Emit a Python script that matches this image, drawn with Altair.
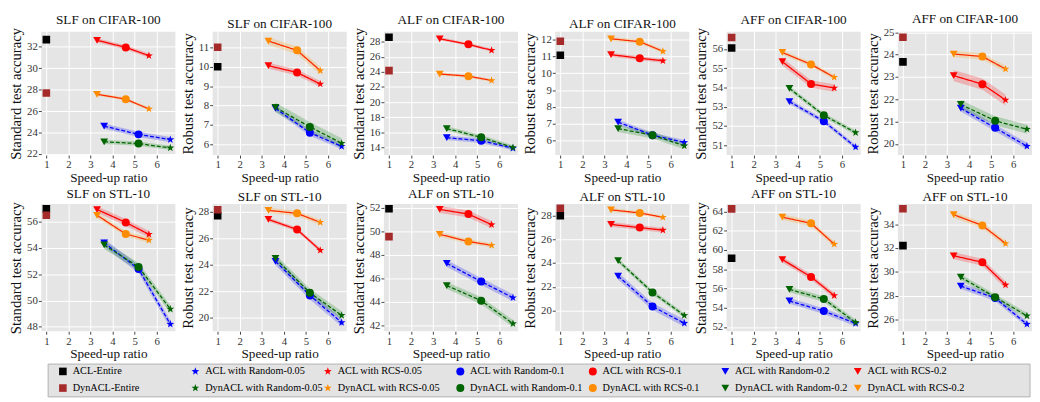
import math
import altair as alt
import pandas as pd

# ---------------- data ----------------
RCS_X = [3.30, 4.60, 5.65]          # RCS-0.2, RCS-0.1, RCS-0.05
RANDOM_X = [3.62, 5.18, 6.62]       # Random-0.2, Random-0.1, Random-0.05
ENTIRE_X = 1.0
RATIO_MARK = ["0.2", "0.1", "0.05"]
X_TICKS = [1, 2, 3, 4, 5, 6]

TITLES = ["SLF on CIFAR-100", "SLF on CIFAR-100", "ALF on CIFAR-100", "ALF on CIFAR-100",
          "AFF on CIFAR-100", "AFF on CIFAR-100",
          "SLF on STL-10", "SLF on STL-10", "ALF on STL-10", "ALF on STL-10",
          "AFF on STL-10", "AFF on STL-10"]
Y_TITLES = ["Standard test accuracy", "Robust test accuracy"] * 6

Y_DOMAINS = [[21.9, 33.4], [5.45, 11.8], [13.0, 29.3], [5.15, 12.46], [50.48, 56.9], [19.5, 25.03],
             [47.66, 57.35], [19.0, 28.58], [41.5, 52.3], [18.27, 28.95], [51.55, 64.77], [25.0, 35.7]]
Y_TICKS = [[22, 24, 26, 28, 30, 32], [6, 7, 8, 9, 10, 11], [14, 16, 18, 20, 22, 24, 26, 28],
           [6, 7, 8, 9, 10, 11, 12], [51, 52, 53, 54, 55, 56], [20, 21, 22, 23, 24, 25],
           [48, 50, 52, 54, 56], [20, 22, 24, 26, 28], [42, 44, 46, 48, 50, 52],
           [20, 22, 24, 26, 28], [52, 54, 56, 58, 60, 62, 64], [26, 28, 30, 32, 34]]

ACL_ENTIRE = [32.66, 10.0, 28.57, 11.07, 56.05, 23.68, 56.98, 27.7, 51.9, 27.97, 59.13, 32.2]
DYN_ENTIRE = [27.69, 11.0, 24.16, 11.9, 56.6, 24.78, 56.49, 28.15, 49.53, 28.6, 64.27, 35.3]

ACL_RCS = [[32.6, 31.94, 31.17], [10.05, 9.7, 9.11], [28.37, 27.63, 26.85], [11.1, 10.89, 10.74],
           [55.34, 54.18, 53.97], [23.06, 22.68, 21.97], [56.93, 55.95, 55.04], [27.42, 26.66, 25.1],
           [51.84, 51.45, 50.55], [27.24, 26.97, 26.76], [59.0, 57.2, 55.26], [31.35, 30.8, 28.9]]
DYN_RCS = [[27.57, 27.11, 26.2], [11.32, 10.84, 9.8], [23.71, 23.43, 22.86], [12.04, 11.87, 11.3],
           [55.82, 55.2, 54.53], [24.03, 23.92, 23.36], [56.49, 55.07, 54.6], [28.1, 27.88, 27.2],
           [49.73, 49.12, 48.8], [28.46, 28.2, 27.84], [63.4, 62.77, 60.6], [34.8, 33.9, 32.38]]
ACL_RANDOM = [[24.6, 23.83, 23.34], [7.85, 6.6, 5.9], [15.3, 14.9, 13.9], [7.1, 6.33, 5.9],
              [53.26, 52.24, 50.9], [21.6, 20.72, 19.9], [54.4, 52.4, 48.2], [24.27, 21.7, 19.66],
              [47.26, 45.72, 44.35], [22.9, 20.35, 18.95], [54.7, 53.65, 52.37], [28.8, 27.8, 25.6]]
DYN_RANDOM = [[23.14, 22.97, 22.57], [7.9, 6.9, 6.06], [16.5, 15.35, 14.0], [6.72, 6.33, 5.7],
              [53.95, 52.55, 51.65], [21.77, 21.04, 20.66], [54.23, 52.56, 49.35], [24.48, 21.9, 20.2],
              [45.38, 44.1, 42.15], [24.2, 21.53, 19.6], [55.9, 54.9, 52.47], [29.55, 27.87, 26.3]]
# shaded band half-widths: ACL RCS, DynACL RCS, ACL Random, DynACL Random
BAND = [[0.2, 0.15, 0.25, 0.2], [0.15, 0.2, 0.15, 0.25], [0.2, 0.2, 0.3, 0.3], [0.12, 0.12, 0.15, 0.2],
        [0.2, 0.12, 0.12, 0.12], [0.25, 0.15, 0.15, 0.2], [0.25, 0.2, 0.3, 0.3], [0.15, 0.2, 0.3, 0.3],
        [0.3, 0.2, 0.3, 0.3], [0.2, 0.15, 0.3, 0.2], [0.3, 0.3, 0.3, 0.3], [0.3, 0.25, 0.25, 0.25]]

LEGEND_ROWS = [
    ["ACL-Entire", "ACL with Random-0.05", "ACL with RCS-0.05", "ACL with Random-0.1",
     "ACL with RCS-0.1", "ACL with Random-0.2", "ACL with RCS-0.2"],
    ["DynACL-Entire", "DynACL with Random-0.05", "DynACL with RCS-0.05", "DynACL with Random-0.1",
     "DynACL with RCS-0.1", "DynACL with Random-0.2", "DynACL with RCS-0.2"],
]
LEGEND_SERIES = [["ACL-Entire", "ACL Random", "ACL RCS", "ACL Random", "ACL RCS", "ACL Random", "ACL RCS"],
                 ["DynACL-Entire", "DynACL Random", "DynACL RCS", "DynACL Random", "DynACL RCS",
                  "DynACL Random", "DynACL RCS"]]
LEGEND_MARKS = ["entire", "0.05", "0.05", "0.1", "0.1", "0.2", "0.2"]

# ---------------- styles ----------------
FONT = "Liberation Serif"
SERIES = ["ACL-Entire", "DynACL-Entire", "ACL RCS", "DynACL RCS", "ACL Random", "DynACL Random"]
MARK_COLORS = ["#000000", "#a52a2a", "#ff0000", "#ff8c00", "#0000ff", "#006400"]
LINE_SERIES = ["ACL RCS", "DynACL RCS", "ACL Random", "DynACL Random"]
LINE_COLORS = ["#ff0000", "#ff2a00", "#0000ff", "#006400"]
BAND_COLORS = ["#ff0000", "#ff9900", "#0000ff", "#008000"]
DASHES = [[1, 0], [1, 0], [4, 2], [4, 2]]


def star_path(r_in=0.4):
    pts = []
    for k in range(10):
        ang = math.radians(-90 + 36 * k)
        r = 1.0 if k % 2 == 0 else r_in
        pts.append((r * math.cos(ang), r * math.sin(ang)))
    return "M" + " L".join(f"{x:.3f},{y:.3f}" for x, y in pts) + " Z"


STAR = star_path()
SHAPE_DOMAIN = ["entire", "0.2", "0.1", "0.05"]
SHAPE_RANGE = ["square", "triangle-down", "circle", STAR]
SIZE_RANGE = [60, 70, 80, 85]

color_scale = alt.Scale(domain=SERIES, range=MARK_COLORS)
shape_scale = alt.Scale(domain=SHAPE_DOMAIN, range=SHAPE_RANGE)
size_scale = alt.Scale(domain=SHAPE_DOMAIN, range=SIZE_RANGE)

AXIS_STYLE = dict(labelFont=FONT, labelFontSize=11, labelFontWeight="normal", labelColor="#333",
                  titleFont=FONT, titleFontWeight="normal", titleColor="#111",
                  labelPadding=1, tickSize=3)


def panel(i, height):
    groups = [("ACL RCS", RCS_X, ACL_RCS[i], BAND[i][0]),
              ("DynACL RCS", RCS_X, DYN_RCS[i], BAND[i][1]),
              ("ACL Random", RANDOM_X, ACL_RANDOM[i], BAND[i][2]),
              ("DynACL Random", RANDOM_X, DYN_RANDOM[i], BAND[i][3])]
    rows = []
    for name, xs, ys, e in groups:
        for x, y, mk in zip(xs, ys, RATIO_MARK):
            rows.append({"series": name, "x": x, "y": y, "lo": y - e, "hi": y + e, "mk": mk})
    lines = pd.DataFrame(rows)
    pts = pd.concat([lines, pd.DataFrame([
        {"series": "ACL-Entire", "x": ENTIRE_X, "y": ACL_ENTIRE[i], "mk": "entire"},
        {"series": "DynACL-Entire", "x": ENTIRE_X, "y": DYN_ENTIRE[i], "mk": "entire"},
    ])], ignore_index=True)

    xsc = alt.Scale(domain=[0.77, 6.85], nice=False, zero=False)
    ysc = alt.Scale(domain=Y_DOMAINS[i], nice=False, zero=False)
    xax = alt.Axis(values=X_TICKS, title="Speed-up ratio", format="d", titleFontSize=13.5,
                   titlePadding=1, **AXIS_STYLE)
    yax = alt.Axis(values=Y_TICKS[i], title=Y_TITLES[i], format="d", minExtent=16, maxExtent=16,
                   titleFontSize=15, titlePadding=2, **AXIS_STYLE)
    X = alt.X("x:Q", scale=xsc, axis=xax)

    band = alt.Chart(lines).mark_area(opacity=0.22, clip=True).encode(
        x=X,
        y=alt.Y("lo:Q", scale=ysc, axis=yax),
        y2="hi:Q",
        fill=alt.Fill("series:N", scale=alt.Scale(domain=LINE_SERIES, range=BAND_COLORS), legend=None),
        detail="series:N",
    )
    line = alt.Chart(lines).mark_line(strokeWidth=1.3, clip=True).encode(
        x=X,
        y=alt.Y("y:Q", scale=ysc, axis=yax),
        stroke=alt.Stroke("series:N", scale=alt.Scale(domain=LINE_SERIES, range=LINE_COLORS), legend=None),
        strokeDash=alt.StrokeDash("series:N", scale=alt.Scale(domain=LINE_SERIES, range=DASHES), legend=None),
    )
    point = alt.Chart(pts).mark_point(filled=True, opacity=1, clip=True).encode(
        x=X,
        y=alt.Y("y:Q", scale=ysc, axis=yax),
        color=alt.Color("series:N", scale=color_scale, legend=None),
        shape=alt.Shape("mk:N", scale=shape_scale, legend=None),
        size=alt.Size("mk:N", scale=size_scale, legend=None),
    )
    return alt.layer(band, line, point).properties(
        width=137, height=height,
        title=alt.TitleParams(TITLES[i], fontSize=13.5, font=FONT, fontWeight="normal", offset=1,
                              color="#111"),
    )


row1 = alt.hconcat(*[panel(i, 126) for i in range(6)], spacing=4).resolve_scale(
    x="independent", y="independent")
row2 = alt.hconcat(*[panel(i, 130) for i in range(6, 12)], spacing=4).resolve_scale(
    x="independent", y="independent")

# legend built from the series lists
lrows = []
for r in range(2):
    for c in range(7):
        lrows.append({"col": c, "row": r, "label": LEGEND_ROWS[r][c],
                      "series": LEGEND_SERIES[r][c], "mk": LEGEND_MARKS[c]})
ldf = pd.DataFrame(lrows)
lx = alt.X("col:Q", scale=alt.Scale(domain=[-0.163, 7.219], nice=False, zero=False), axis=None)
ly = alt.Y("row:Q", scale=alt.Scale(domain=[-0.47, 1.53], nice=False, zero=False, reverse=True),
           axis=None)
lbox = alt.Chart(ldf.head(1)).mark_rect(fill="#e3e3e3", stroke="#b0b0b0", strokeWidth=1).encode(
    x=alt.value(7), x2=alt.value(1010), y=alt.value(0.5), y2=alt.value(34)
)
lsym = alt.Chart(ldf).mark_point(filled=True, opacity=1).encode(
    x=lx, y=ly,
    color=alt.Color("series:N", scale=color_scale, legend=None),
    shape=alt.Shape("mk:N", scale=shape_scale, legend=None),
    size=alt.Size("mk:N", scale=size_scale, legend=None),
)
ltxt = alt.Chart(ldf).mark_text(align="left", baseline="middle", dx=10, fontSize=10.5, font=FONT,
                                color="black").encode(x=lx, y=ly, text="label:N")
legend = alt.layer(lbox, lsym, ltxt).properties(
    width=999, height=34,
    view=alt.ViewBackground(fill="white", stroke="white", strokeWidth=0),
)

chart = alt.vconcat(row1, row2, legend, spacing=3).resolve_scale(
    x="independent", y="independent", color="independent", shape="independent", size="independent"
).properties(
    padding={"left": 0, "top": 0, "right": 0, "bottom": 0}
).configure(
    font=FONT
).configure_view(
    fill="#e5e5e5", stroke=None
).configure_title(
    font=FONT, fontWeight="normal", fontSize=13.5
).configure_axis(
    grid=True, gridColor="white", gridWidth=1, domain=False, tickColor="#444",
    labelFont=FONT, titleFont=FONT, titleFontWeight="normal",
)

chart.save("out.html", embed_options={"renderer": "svg", "actions": False})
